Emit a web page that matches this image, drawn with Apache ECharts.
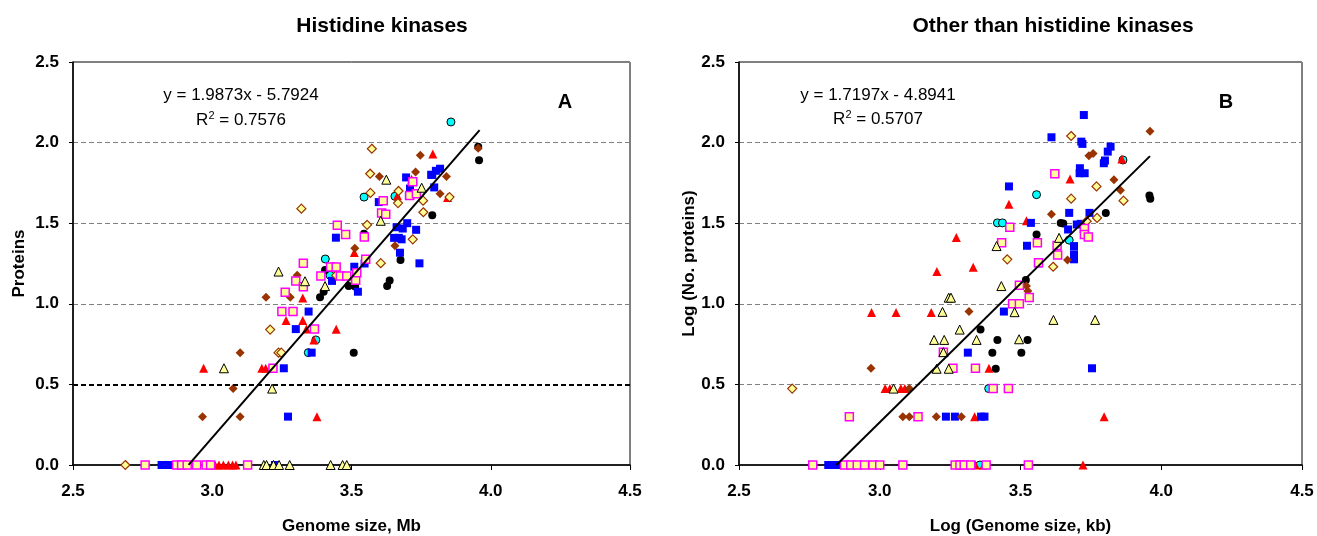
<!doctype html>
<html>
    <head>
        <meta charset="utf-8">
        <title>Histidine kinases vs genome size</title>
        <style>
            html, body { margin: 0; padding: 0; background: #fff; }
            #main { width: 1317px; height: 536px; }
        </style>
    </head>
    <body>
        <div id="main"></div>
        <script src="https://cdn.jsdelivr.net/npm/echarts@6/dist/echarts.min.js"></script>
        <script>
            // panel A: histidine kinases, [log genome size, log proteins]
            var hkBlue = [[2.818,0],[2.833,0],[2.846,0],[3.225,0],[3.272,0.30],[3.257,0.60],[3.357,0.697],[3.30,0.843],[3.346,0.952],[3.523,1.075],[3.43,1.142],[3.51,1.23],[3.547,1.25],[3.444,1.41],[3.598,1.631],[3.696,1.784],[3.71,1.715],[3.70,1.50],[3.662,1.475],[3.684,1.467],[3.67,1.409],[3.653,1.409],[3.68,1.40],[3.732,1.459],[3.674,1.317],[3.744,1.251],[3.797,1.722],[3.786,1.80],[3.79,1.80],[3.803,1.825],[3.818,1.838],[3.706,1.67]];
            var hkMagenta = [[2.759,0],[2.872,0],[2.89,0],[2.91,0],[2.944,0],[2.978,0],[2.994,0],[3.127,0],[3.218,0.60],[3.25,0.952],[3.29,0.952],[3.367,0.843],[3.262,1.072],[3.30,1.142],[3.327,1.105],[3.327,1.251],[3.39,1.173],[3.425,1.228],[3.445,1.228],[3.46,1.173],[3.483,1.173],[3.515,1.146],[3.519,1.193],[3.551,1.276],[3.449,1.488],[3.479,1.43],[3.546,1.414],[3.608,1.564],[3.614,1.64],[3.623,1.556],[3.709,1.672],[3.72,1.757],[3.733,1.683]];
            var hkRed = [[3.01,0],[3.024,0],[3.04,0],[3.058,0],[3.073,0],[3.085,0],[2.969,0.60],[3.178,0.60],[3.192,0.60],[3.265,0.897],[3.325,0.897],[3.325,1.036],[3.338,0.843],[3.365,0.776],[3.376,0.30],[3.445,0.842],[3.51,1.318],[3.665,1.67],[3.716,1.773],[3.792,1.93],[3.845,1.66]];
            var hkYellowTri = [[3.185,0],[3.195,0],[3.22,0],[3.24,0],[3.278,0],[3.425,0],[3.468,0],[3.483,0],[3.042,0.60],[3.215,0.474],[3.238,1.20],[3.333,1.14],[3.405,1.11],[3.605,1.515],[3.625,1.77],[3.752,1.72]];
            var hkBrown = [[2.965,0.30],[3.10,0.30],[3.075,0.474],[3.10,0.697],[3.193,1.04],[3.28,1.04],[3.305,1.177],[3.512,1.345],[3.656,1.36],[3.60,1.79],[3.73,1.817],[3.747,1.922],[3.841,1.79],[3.818,1.682],[3.955,1.965]];
            var hkHollow = [[2.688,0],[3.208,0.84],[3.238,0.697],[3.248,0.697],[3.32,1.59],[3.445,1.176],[3.556,1.49],[3.568,1.688],[3.567,1.807],[3.573,1.962],[3.605,1.252],[3.667,1.625],[3.669,1.70],[3.72,1.40],[3.757,1.64],[3.758,1.568],[3.852,1.662]];
            var hkBlack = [[3.387,1.04],[3.40,1.075],[3.405,1.21],[3.49,1.11],[3.513,1.107],[3.508,0.697],[3.545,1.434],[3.628,1.11],[3.637,1.145],[3.676,1.272],[3.79,1.55],[3.955,1.975],[3.958,1.89]];
            var hkCyan = [[3.345,0.697],[3.372,0.776],[3.406,1.278],[3.423,1.177],[3.545,1.662],[3.656,1.667],[3.857,2.128]];

            // panel B: other than histidine kinases
            var otBlue = [[2.817,0],[2.832,0],[2.847,0],[3.235,0.30],[3.267,0.30],[3.36,0.30],[3.372,0.30],[3.313,0.697],[3.441,0.952],[3.754,0.60],[3.459,1.728],[3.537,1.502],[3.523,1.36],[3.564,1.251],[3.61,2.033],[3.725,2.171],[3.716,2.006],[3.72,1.992],[3.711,1.841],[3.71,1.81],[3.728,1.81],[3.80,1.889],[3.796,1.872],[3.81,1.944],[3.82,1.975],[3.673,1.564],[3.745,1.564],[3.669,1.461],[3.70,1.492],[3.714,1.496],[3.69,1.358],[3.69,1.307],[3.69,1.276]];
            var otMagenta = [[2.762,0],[2.875,0],[2.897,0],[2.92,0],[2.946,0],[2.976,0],[3.0,0],[3.082,0],[3.268,0],[3.285,0],[3.30,0],[3.323,0],[3.378,0],[3.528,0],[2.892,0.30],[3.136,0.30],[3.226,0.70],[3.26,0.60],[3.34,0.60],[3.403,0.474],[3.457,0.474],[3.472,1.0],[3.496,1.0],[3.496,1.115],[3.531,1.039],[3.564,1.255],[3.56,1.378],[3.433,1.378],[3.462,1.475],[3.63,1.362],[3.632,1.302],[3.727,1.467],[3.727,1.43],[3.741,1.414],[3.622,1.807]];
            var otRed = [[3.34,0],[3.37,0],[3.722,0],[3.019,0.474],[3.036,0.474],[3.075,0.474],[3.089,0.474],[3.337,0.30],[3.388,0.60],[2.971,0.946],[3.058,0.946],[3.183,0.946],[3.203,1.20],[3.272,1.412],[3.332,1.226],[3.459,1.618],[3.521,1.515],[3.676,1.774],[3.86,1.899],[3.797,0.30]];
            var otYellowTri = [[3.049,0.474],[3.202,0.597],[3.245,0.597],[3.226,0.70],[3.193,0.776],[3.229,0.776],[3.284,0.84],[3.344,0.776],[3.223,0.95],[3.245,1.038],[3.253,1.038],[3.432,1.11],[3.415,1.358],[3.637,1.409],[3.479,0.948],[3.495,0.78],[3.617,0.90],[3.765,0.90]];
            var otBrown = [[2.969,0.60],[3.105,0.474],[3.082,0.30],[3.105,0.30],[3.201,0.30],[3.29,0.30],[3.317,0.952],[3.521,1.111],[3.526,1.08],[3.61,1.556],[3.667,1.272],[3.743,1.918],[3.758,1.932],[3.832,1.77],[3.855,1.704],[3.96,2.07]];
            var otHollow = [[2.689,0.474],[3.453,1.276],[3.616,1.23],[3.68,2.041],[3.68,1.652],[3.77,1.728],[3.772,1.533],[3.735,1.512],[3.866,1.64]];
            var otBlack = [[3.358,0.84],[3.418,0.776],[3.525,0.776],[3.40,0.697],[3.503,0.697],[3.412,0.597],[3.519,1.148],[3.557,1.43],[3.643,1.502],[3.652,1.498],[3.803,1.564],[3.958,1.672],[3.961,1.652]];
            var otCyan = [[3.356,0],[3.387,0.474],[3.418,1.502],[3.436,1.502],[3.557,1.677],[3.673,1.395],[3.864,1.892]];

            // linear trend lines: [slope, intercept], x range drawn
            var hkTrend = [1.9873, -5.7924];
            var hkTrendX = [2.915, 3.96];
            var otTrend = [1.7197, -4.8941];
            var otTrendX = [2.846, 3.96];

            var xTicks = [2.5, 3.0, 3.5, 4.0, 4.5];
            var yTicks = [0, 0.5, 1.0, 1.5, 2.0, 2.5];

            var FONT = '"Liberation Sans", Arial, Helvetica, sans-serif';

            // marker look for each group, bottom to top
            var markers = {
                cyan:    { symbol: 'circle',   size: 8, color: '#00ffff', border: '#000', bw: 1 },
                black:   { symbol: 'circle',   size: 8, color: '#000',    border: '#000', bw: 0 },
                red:     { symbol: 'triangle', size: 9, color: '#ff0000', border: '#ff0000', bw: 0 },
                blue:    { symbol: 'rect',     size: 8, color: '#0000ff', border: '#0000ff', bw: 0 },
                brown:   { symbol: 'diamond',  size: 9, color: '#993300', border: '#993300', bw: 0 },
                hollow:  { symbol: 'diamond',  size: 9, color: '#ffff99', border: '#993300', bw: 1.2 },
                magenta: { symbol: 'rect',     size: 8, color: '#ffff99', border: '#ff00ff', bw: 1.5 },
                ytri:    { symbol: 'triangle', size: 9, color: '#ffff99', border: '#000', bw: 1 }
            };

            function scatter(idx, kind, data) {
                var m = markers[kind];
                return {
                    type: 'scatter',
                    xAxisIndex: idx,
                    yAxisIndex: idx,
                    symbol: m.symbol,
                    symbolSize: m.size,
                    data: data,
                    itemStyle: { color: m.color, borderColor: m.border, borderWidth: m.bw, opacity: 1 },
                    z: 3
                };
            }

            function trend(idx, coef, xs) {
                return {
                    type: 'line',
                    xAxisIndex: idx,
                    yAxisIndex: idx,
                    symbol: 'none',
                    data: xs.map(function (x) { return [x, coef[0] * x + coef[1]]; }),
                    lineStyle: { color: '#000', width: 2 },
                    z: 5
                };
            }

            function xAxis(idx, name) {
                return {
                    gridIndex: idx,
                    type: 'value',
                    min: xTicks[0],
                    max: xTicks[xTicks.length - 1],
                    interval: 0.5,
                    name: name,
                    nameLocation: 'middle',
                    nameGap: 53,
                    nameTextStyle: { color: '#000', fontFamily: FONT, fontWeight: 'bold', fontSize: 17 },
                    axisLine: { onZero: false, lineStyle: { color: '#000', width: 1.5 } },
                    axisTick: { length: 5, lineStyle: { color: '#000', width: 1 } },
                    axisLabel: {
                        color: '#000', fontFamily: FONT, fontWeight: 'bold', fontSize: 17, margin: 18,
                        formatter: function (v) { return v.toFixed(1); }
                    },
                    splitLine: { show: false }
                };
            }

            function yAxis(idx, name, gap) {
                return {
                    gridIndex: idx,
                    type: 'value',
                    min: yTicks[0],
                    max: yTicks[yTicks.length - 1],
                    interval: 0.5,
                    name: name,
                    nameLocation: 'middle',
                    nameGap: gap,
                    nameTextStyle: { color: '#000', fontFamily: FONT, fontWeight: 'bold', fontSize: 17 },
                    axisLine: { onZero: false, lineStyle: { color: '#000', width: 1.5 } },
                    axisTick: { length: 4, lineStyle: { color: '#000', width: 1 } },
                    axisLabel: {
                        color: '#000', fontFamily: FONT, fontWeight: 'bold', fontSize: 17, margin: 14,
                        formatter: function (v) { return v.toFixed(1); }
                    },
                    splitLine: { show: true, lineStyle: { color: '#808080', type: [5, 3], width: 1 } }
                };
            }

            function label(x, y, text, size, weight) {
                return {
                    type: 'text', x: x, y: y, z: 10,
                    style: {
                        text: text, fill: '#000', align: 'center', verticalAlign: 'middle',
                        font: (weight || 'normal') + ' ' + size + 'px ' + FONT
                    }
                };
            }

            function rsq(x, y, value) {
                return {
                    type: 'text', x: x, y: y, z: 10,
                    style: {
                        text: '{n|R}{s|2}{n| = ' + value + '}',
                        align: 'center', verticalAlign: 'middle',
                        rich: {
                            n: { fontFamily: FONT, fontSize: 17, fill: '#000', color: '#000' },
                            s: { fontFamily: FONT, fontSize: 11, fill: '#000', color: '#000', verticalAlign: 'top', padding: [0, 0, 8, 0] }
                        }
                    }
                };
            }

            var chart = echarts.init(document.getElementById('main'));

            var hkTrendSeries = trend(0, hkTrend, hkTrendX);
            hkTrendSeries.markLine = {
                silent: true,
                symbol: 'none',
                label: { show: false },
                lineStyle: { color: '#000', type: [5, 3], width: 2 },
                data: [{ yAxis: 0.5 }]
            };

            chart.setOption({
                animation: false,
                backgroundColor: '#fff',
                grid: [
                    { left: 73, top: 62, width: 557, height: 403, show: true, borderColor: '#000', borderWidth: 1, outerBoundsMode: 'none' },
                    { left: 739, top: 62, width: 563, height: 403, show: true, borderColor: '#000', borderWidth: 1, outerBoundsMode: 'none' }
                ],
                xAxis: [xAxis(0, 'Genome size, Mb'), xAxis(1, 'Log (Genome size, kb)')],
                yAxis: [yAxis(0, 'Proteins', 45), yAxis(1, 'Log (No. proteins)', 41)],
                graphic: [
                    label(382, 26, 'Histidine kinases', 21, 'bold'),
                    label(1053, 26, 'Other than histidine kinases', 21, 'bold'),
                    label(241, 95, 'y = 1.9873x - 5.7924', 17),
                    rsq(241, 120, '0.7576'),
                    label(878, 95, 'y = 1.7197x - 4.8941', 17),
                    rsq(878, 119, '0.5707'),
                    label(565, 102, 'A', 20, 'bold'),
                    label(1226, 102, 'B', 20, 'bold')
                ],
                series: [
                    scatter(0, 'cyan', hkCyan),
                    scatter(0, 'black', hkBlack),
                    scatter(0, 'red', hkRed),
                    scatter(0, 'blue', hkBlue),
                    scatter(0, 'brown', hkBrown),
                    scatter(0, 'hollow', hkHollow),
                    scatter(0, 'magenta', hkMagenta),
                    scatter(0, 'ytri', hkYellowTri),
                    hkTrendSeries,
                    scatter(1, 'cyan', otCyan),
                    scatter(1, 'black', otBlack),
                    scatter(1, 'red', otRed),
                    scatter(1, 'blue', otBlue),
                    scatter(1, 'brown', otBrown),
                    scatter(1, 'hollow', otHollow),
                    scatter(1, 'magenta', otMagenta),
                    scatter(1, 'ytri', otYellowTri),
                    trend(1, otTrend, otTrendX)
                ]
            });

            window.onresize = chart.resize;
        </script>
    </body>
</html>
